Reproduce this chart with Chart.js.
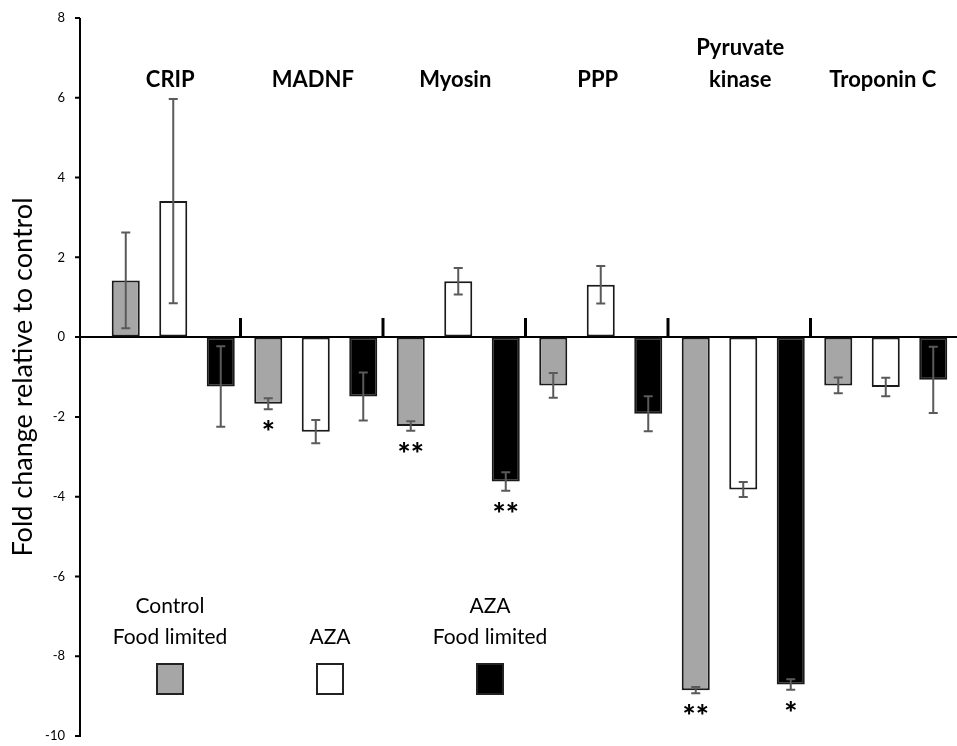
<!DOCTYPE html>
<html>
<head>
<meta charset="utf-8">
<script src="https://cdn.jsdelivr.net/npm/chart.js@4.4.1/dist/chart.umd.min.js"></script>
<style>
  html, body { margin: 0; padding: 0; background: #fff; }
  #wrap { width: 957px; height: 746px; }
</style>
</head>
<body>
<div id="wrap"><canvas id="chart"></canvas></div>
<script>
// genes along the x axis
const genes = ["CRIP", "MADNF", "Myosin", "PPP", ["Pyruvate", "kinase"], "Troponin C"];
const yTicks = [-10, -8, -6, -4, -2, 0, 2, 4, 6, 8];

// fold change per treatment
const controlFood = [1.42, -1.67, -2.23, -1.21, -8.85, -1.21];
const aza = [3.41, -2.37, 1.40, 1.31, -3.82, -1.25];
const azaFood = [-1.24, -1.49, -3.62, -1.92, -8.71, -1.07];

// error bars (+/-)
const controlFoodErr = [1.2, 0.14, 0.12, 0.31, 0.08, 0.2];
const azaErr = [2.56, 0.29, 0.33, 0.47, 0.19, 0.23];
const azaFoodErr = [1.01, 0.6, 0.23, 0.44, 0.13, 0.83];

// significance marks
const controlFoodSig = ["", "*", "**", "", "**", ""];
const azaSig = ["", "", "", "", "", ""];
const azaFoodSig = ["", "", "**", "", "*", ""];

const legendLabels = [["Control", "Food limited"], ["AZA"], ["AZA", "Food limited"]];

const FONT = "Lato, 'Open Sans', sans-serif";
const errs = [controlFoodErr, azaErr, azaFoodErr];
const sigs = [controlFoodSig, azaSig, azaFoodSig];

const extras = {
  id: "extras",
  beforeDatasetsDraw(chart) {
    const ctx = chart.ctx;
    const x = chart.scales.x;
    const y = chart.scales.y;
    const axisX = chart.chartArea.left - 22;
    const y0 = y.getPixelForValue(0);
    ctx.save();
    ctx.strokeStyle = "#000";
    // y axis line + ticks
    ctx.lineWidth = 2;
    ctx.beginPath();
    ctx.moveTo(axisX, y.getPixelForValue(8));
    ctx.lineTo(axisX, y.getPixelForValue(-10) + 1);
    yTicks.forEach(t => {
      const py = y.getPixelForValue(t);
      ctx.moveTo(axisX - 5, py);
      ctx.lineTo(axisX, py);
    });
    ctx.stroke();
    // x axis line at zero
    ctx.beginPath();
    ctx.moveTo(axisX, y0);
    ctx.lineTo(chart.width, y0);
    ctx.stroke();
    // separator ticks between gene groups
    ctx.lineWidth = 3;
    ctx.beginPath();
    for (let i = 0; i < genes.length - 1; i++) {
      const bx = (x.getPixelForValue(i) + x.getPixelForValue(i + 1)) / 2 - 4;
      ctx.moveTo(bx, y0);
      ctx.lineTo(bx, y0 - 19);
    }
    ctx.stroke();
    ctx.restore();
  },
  afterDatasetsDraw(chart) {
    const ctx = chart.ctx;
    const x = chart.scales.x;
    const y = chart.scales.y;
    ctx.save();
    // error bars
    ctx.strokeStyle = "#5a5a5a";
    ctx.lineWidth = 2;
    chart.data.datasets.forEach((ds, di) => {
      const meta = chart.getDatasetMeta(di);
      meta.data.forEach((bar, i) => {
        const v = ds.data[i];
        const e = errs[di][i];
        const top = y.getPixelForValue(v + e);
        const bot = y.getPixelForValue(v - e);
        ctx.beginPath();
        ctx.moveTo(bar.x, top);
        ctx.lineTo(bar.x, bot);
        ctx.moveTo(bar.x - 4.5, top);
        ctx.lineTo(bar.x + 4.5, top);
        ctx.moveTo(bar.x - 4.5, bot);
        ctx.lineTo(bar.x + 4.5, bot);
        ctx.stroke();
        // significance stars
        if (sigs[di][i]) {
          ctx.fillStyle = "#000";
          ctx.font = "900 31px " + FONT;
          ctx.textAlign = "center";
          ctx.textBaseline = "middle";
          ctx.fillText(sigs[di][i], bar.x, bot + 24);
        }
      });
    });
    // gene labels
    ctx.fillStyle = "#000";
    ctx.font = "bold 22px " + FONT;
    ctx.textAlign = "center";
    ctx.textBaseline = "middle";
    genes.forEach((g, i) => {
      const cx = x.getPixelForValue(i) - 3;
      const lines = Array.isArray(g) ? g : [g];
      lines.forEach((ln, k) => {
        ctx.fillText(ln, cx, 80 - (lines.length - 1 - k) * 32);
      });
    });
    // legend
    const colX = [170, 330, 490];
    ctx.font = "21px " + FONT;
    chart.data.datasets.forEach((ds, di) => {
      const lines = legendLabels[di];
      lines.forEach((ln, k) => {
        ctx.fillText(ln, colX[di], 637 - (lines.length - 1 - k) * 31);
      });
      ctx.fillStyle = ds.backgroundColor;
      ctx.fillRect(colX[di] - 13, 664, 26, 30);
      ctx.strokeStyle = "#222";
      ctx.lineWidth = 2;
      ctx.strokeRect(colX[di] - 13, 664, 26, 30);
      ctx.fillStyle = "#000";
    });
    ctx.restore();
  }
};

new Chart(document.getElementById("chart"), {
  type: "bar",
  data: {
    labels: genes.map(g => Array.isArray(g) ? g.join(" ") : g),
    datasets: [
      { label: "Control Food limited", data: controlFood, backgroundColor: "#a6a6a6" },
      { label: "AZA", data: aza, backgroundColor: "#ffffff" },
      { label: "AZA Food limited", data: azaFood, backgroundColor: "#000000" }
    ]
  },
  plugins: [extras],
  options: {
    responsive: true,
    maintainAspectRatio: false,
    animation: false,
    layout: { padding: { left: 7, right: 0, top: 18, bottom: 10 } },
    datasets: {
      bar: {
        categoryPercentage: 1,
        barPercentage: 0.59,
        borderColor: "#1a1a1a",
        borderWidth: 2,
        borderSkipped: false
      }
    },
    plugins: {
      legend: { display: false },
      tooltip: { enabled: false }
    },
    scales: {
      x: { display: false },
      y: {
        min: -10,
        max: 8,
        afterFit: s => { s.width = 95; },
        afterBuildTicks: s => { s.ticks = yTicks.map(v => ({ value: v })); },
        border: { display: false },
        grid: {
          display: true,
          drawOnChartArea: false,
          drawTicks: true,
          tickLength: 37,
          color: "rgba(0,0,0,0)"
        },
        ticks: {
          padding: 0,
          color: "#000",
          font: { family: FONT, size: 13 }
        },
        title: {
          display: true,
          text: "Fold change relative to control",
          color: "#000",
          padding: 0,
          font: { family: FONT, size: 27 }
        }
      }
    }
  }
});
</script>
</body>
</html>
